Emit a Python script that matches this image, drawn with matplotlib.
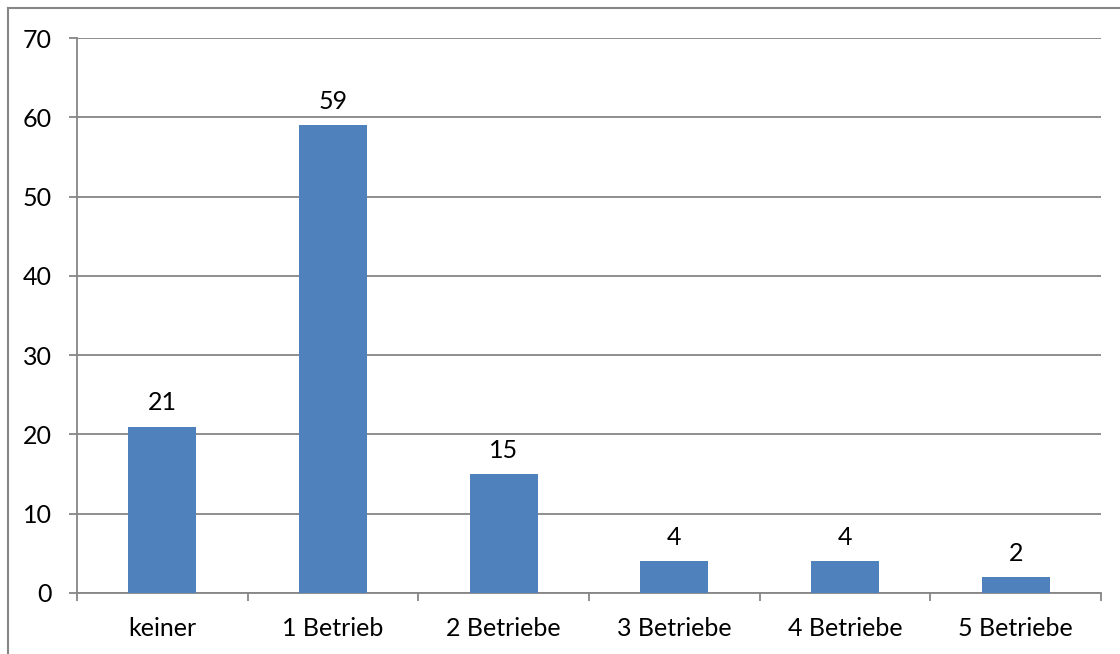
import matplotlib
matplotlib.use("Agg")
import matplotlib.pyplot as plt
from matplotlib.lines import Line2D

categories = ["keiner", "1 Betrieb", "2 Betriebe", "3 Betriebe", "4 Betriebe", "5 Betriebe"]
values = [21, 59, 15, 4, 4, 2]
yticks = [0, 10, 20, 30, 40, 50, 60, 70]

plt.rcParams['font.family'] = ['Lato', 'DejaVu Sans']
W, H = 1120, 654
FS = 18
fig = plt.figure(figsize=(W / 100, H / 100), dpi=100)
ax = fig.add_axes([77 / W, 1 - 593 / H, (1101 - 77) / W, (593 - 38) / H])

grid_c = "#868686"
bar_c = "#4F81BD"
x = list(range(len(categories)))
ax.bar(x, values, width=0.4, color=bar_c, zorder=3)
for xi, v in zip(x, values):
    ax.annotate(str(v), (xi, v), xytext=(0, 9), textcoords="offset points",
                ha="center", va="bottom", fontsize=FS, color="black")

ax.set_xlim(-0.5, len(categories) - 0.5)
ax.set_ylim(0, 70)
ax.set_yticks(yticks)
ax.set_yticklabels([str(t) for t in yticks], fontsize=FS)
ax.yaxis.grid(True, color=grid_c, linewidth=1.3, zorder=0)
ax.set_axisbelow(True)

ax.set_xticks(x)
ax.set_xticklabels(categories, fontsize=FS)
ax.tick_params(axis="x", length=0, pad=17)
ax.set_xticks([i - 0.5 for i in range(len(categories) + 1)], minor=True)
ax.tick_params(axis="x", which="minor", length=6, width=1.3, color=grid_c, direction="out")
ax.tick_params(axis="y", length=6, width=1.3, color=grid_c, pad=12)

for s in ["top", "right"]:
    ax.spines[s].set_visible(False)
for s in ["left", "bottom"]:
    ax.spines[s].set_color(grid_c)
    ax.spines[s].set_linewidth(1.3)

# outer chart border
fig.add_artist(Line2D([8 / W, 8 / W], [0, 1 - 8 / H], transform=fig.transFigure, color=grid_c, linewidth=1.5))
fig.add_artist(Line2D([8 / W, 1], [1 - 8 / H, 1 - 8 / H], transform=fig.transFigure, color=grid_c, linewidth=1.5))

fig.savefig("out.png", dpi=100)
